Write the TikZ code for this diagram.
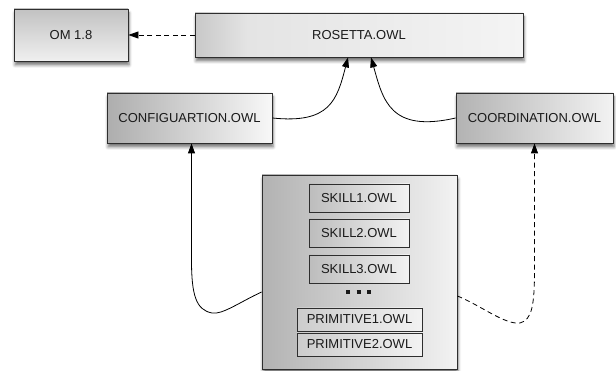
\documentclass[tikz,border=0pt]{standalone}
\usepackage{fontspec}
\setmainfont{Liberation Sans}
\usetikzlibrary{arrows.meta,shadows.blur}
\definecolor{edgec}{HTML}{2E2E2E}
\definecolor{txtc}{HTML}{1A1A1A}
\definecolor{rdark}{HTML}{C8C8C8}
\definecolor{rmid}{HTML}{E4E4E4}
\definecolor{rlight}{HTML}{F4F4F4}
\pgfdeclarehorizontalshading{rosshade}{100bp}{color(0bp)=(rdark); color(25bp)=(rdark); color(33bp)=(rmid); color(75bp)=(rlight); color(100bp)=(rlight)}
\begin{document}
\begin{tikzpicture}[x=1pt,y=-1pt,
  box/.style={draw=edgec, line width=0.8pt, inner sep=0pt, text=txtc,
    font=\fontsize{13}{15}\selectfont,
    blur shadow={shadow xshift=1pt, shadow yshift=-4pt, shadow blur radius=3pt, shadow opacity=55}},
  inbox/.style={draw=edgec, line width=0.7pt, inner sep=0pt, text=txtc,
    font=\fontsize{13}{15}\selectfont, left color=black!26, right color=black!5},
  link/.style={line width=0.8pt, draw=black, -{Triangle[length=10pt,width=7pt]}},
  dlink/.style={link, dash pattern=on 5pt off 3.5pt}]
\useasboundingbox (0,0) rectangle (616,371);

\node[box, minimum width=114pt, minimum height=52pt, top color=black!24, bottom color=black!6] (om) at (71,35) {OM 1.8};
\node[box, minimum width=328pt, minimum height=44pt, shading=rosshade] (ros) at (359,35) {ROSETTA.OWL};
\node[box, minimum width=165pt, minimum height=50pt, left color=black!32, right color=black!3] (conf) at (189.5,118) {CONFIGUARTION.OWL};
\node[box, minimum width=157pt, minimum height=50pt, left color=black!30, right color=black!5] (coord) at (534.5,118) {COORDINATION.OWL};
\node[box, minimum width=195pt, minimum height=194pt, left color=black!30, right color=black!5] (big) at (359.5,272) {};

\node[inbox, minimum width=100pt, minimum height=28pt] (s1) at (359,198) {SKILL1.OWL};
\node[inbox, minimum width=100pt, minimum height=28pt] (s2) at (359,233) {SKILL2.OWL};
\node[inbox, minimum width=100pt, minimum height=28pt] (s3) at (359,269) {SKILL3.OWL};
\node[inner sep=0pt, text=txtc] (dots) at (358.5,292) {\rule{4pt}{3.5pt}\hspace{6.5pt}\rule{4pt}{3.5pt}\hspace{6.5pt}\rule{4pt}{3.5pt}};
\node[inbox, minimum width=125pt, minimum height=23pt, left color=black!20, right color=black!5] (p1) at (359.5,319.5) {PRIMITIVE1.OWL};
\node[inbox, minimum width=125pt, minimum height=23pt, left color=black!20, right color=black!5] (p2) at (359.5,344.5) {PRIMITIVE2.OWL};

\draw[dlink] (ros.west) -- (om.east);
\draw[link] (conf.east) .. controls (330,124) and (337,100) .. ([xshift=-11pt]ros.south);
\draw[link] (coord.west) .. controls (390,133) and (383,100) .. ([xshift=12pt]ros.south);
\draw[link] ([yshift=-20pt]big.west) .. controls (240,302) and (222,315) .. (212,313)
  .. controls (196,310) and (191.5,295) .. (191.5,260) -- ([xshift=2pt]conf.south);
\draw[dlink] ([yshift=-24pt]big.east) .. controls (480,305) and (505,325) .. (520,323)
  .. controls (532,320) and (534.5,305) .. (534.5,270) -- (coord.south);
\end{tikzpicture}
\end{document}
